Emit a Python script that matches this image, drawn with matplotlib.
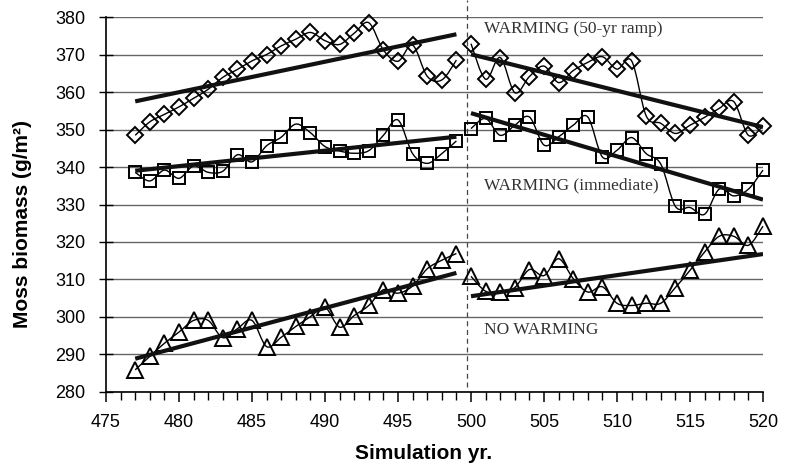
import numpy as np
import matplotlib.pyplot as plt
from matplotlib.path import Path
from matplotlib.patches import PathPatch

# Anos da simulacao (antes e depois do aquecimento)
anos_a = np.arange(477, 500)
anos_b = np.arange(500, 521)

# WARMING (50-yr ramp) - losangos
rampa_a = [348.5, 352.1, 354.1, 356.1, 358.4, 360.8, 364.0, 366.1, 368.4, 370.1, 372.4, 374.2,
           376.0, 373.8, 372.8, 375.8, 378.6, 371.3, 368.3, 372.6, 364.3, 363.3, 368.6]
rampa_b = [373.0, 363.5, 369.3, 359.9, 364.2, 367.0, 362.6, 365.8, 368.0, 369.5, 366.2, 368.4,
           353.7, 351.7, 349.0, 351.2, 353.3, 355.7, 357.5, 348.5, 351.0]

# WARMING (immediate) - quadrados
imediato_a = [338.6, 336.3, 339.2, 337.0, 340.3, 338.6, 338.9, 343.3, 341.4, 345.7, 348.0, 351.5,
              349.2, 345.5, 344.3, 343.7, 344.4, 348.5, 352.6, 343.6, 341.0, 343.6, 347.0]
imediato_b = [350.3, 353.0, 348.5, 351.2, 353.4, 345.9, 348.1, 351.2, 353.4, 342.7, 344.5, 347.9,
              343.6, 340.8, 329.5, 329.2, 327.4, 334.1, 332.3, 334.1, 339.2]

# NO WARMING - triangulos
controle_a = [285.8, 289.4, 292.9, 295.9, 299.0, 299.0, 294.4, 296.8, 299.0, 292.0, 294.5, 297.4,
              300.0, 302.5, 297.2, 300.3, 303.0, 307.2, 306.3, 308.2, 312.8, 315.1, 316.9]
controle_b = [310.8, 306.8, 306.5, 307.8, 312.6, 311.0, 315.5, 310.2, 306.6, 308.0, 303.6, 303.0,
              303.6, 303.6, 307.8, 312.4, 317.3, 321.5, 321.5, 319.1, 324.2]

rotulos = ['WARMING (50-yr ramp)', 'WARMING (immediate)', 'NO WARMING']
rotulos_y = [376.8, 335.2, 296.5]

plt.rcParams['font.family'] = ['Liberation Sans', 'DejaVu Sans']


def curva_suave(ax, x, y):
    # linha suavizada tipo Excel (Bezier a partir de Catmull-Rom)
    p = np.column_stack([x, y]).astype(float)
    n = len(p)
    verts = [p[0]]
    codes = [Path.MOVETO]
    for i in range(n - 1):
        p0 = p[i - 1] if i > 0 else p[i]
        p1 = p[i]
        p2 = p[i + 1]
        p3 = p[i + 2] if i + 2 < n else p[i + 1]
        verts += [p1 + (p2 - p0) / 6, p2 - (p3 - p1) / 6, p2]
        codes += [Path.CURVE4] * 3
    ax.add_patch(PathPatch(Path(verts, codes), fill=False, edgecolor='black', lw=1.0,
                           zorder=3, clip_on=False))


fig = plt.figure(figsize=(7.87, 4.69), dpi=100)
ax = fig.add_axes([0.1347, 0.1652, 0.8348, 0.7975])

series = [(rampa_a, rampa_b, 'D', 8.3),
          (imediato_a, imediato_b, 's', 9.2),
          (controle_a, controle_b, '^', 11.0)]

for ya, yb, marc, tam in series:
    for x, y in [(anos_a, ya), (anos_b, yb)]:
        curva_suave(ax, x, y)
        ax.plot(x, y, linestyle='none', marker=marc, ms=tam, mfc='none', mec='black', mew=1.4,
                zorder=4, clip_on=False)
        # linha de tendencia linear
        a, b = np.polyfit(x, y, 1)
        ax.plot([x[0], x[-1]], [a * x[0] + b, a * x[-1] + b], color='#111111', lw=3.0,
                solid_capstyle='butt', zorder=5)

for texto, ty in zip(rotulos, rotulos_y):
    ax.text(500.86, ty, texto, family=['Liberation Serif', 'DejaVu Serif'], fontsize=12.5,
            color='#333333', va='center', ha='left', zorder=6)

ax.axvline(499.75, ymin=0.012, ymax=1.047, color='#444444', lw=0.9, linestyle=(0, (4, 3)),
           clip_on=False, zorder=2)

ax.set_xlim(475, 520)
ax.set_ylim(280, 380)
ax.set_xticks(np.arange(475, 521, 5))
ax.set_xticks(np.arange(475, 521, 1), minor=True)
ax.set_yticks(np.arange(280, 381, 10))
ax.yaxis.grid(True, color='#666666', lw=1.0)
ax.set_axisbelow(True)
for s in ['top', 'right']:
    ax.spines[s].set_visible(False)
for s in ['left', 'bottom']:
    ax.spines[s].set_linewidth(1.2)
ax.tick_params(axis='x', which='major', direction='out', length=7, width=1.1, labelsize=13, pad=9)
ax.tick_params(axis='x', which='minor', direction='out', length=6, width=1.0)
ax.tick_params(axis='y', direction='inout', length=10, width=1.0, labelsize=13, pad=10)

ax.set_xlabel('Simulation yr.', fontsize=15, fontweight='bold')
ax.set_ylabel('Moss biomass (g/m²)', fontsize=15, fontweight='bold')
ax.xaxis.set_label_coords(0.483, -0.140)
ax.yaxis.set_label_coords(-0.112, 0.448)

fig.savefig('out.png', dpi=100)
